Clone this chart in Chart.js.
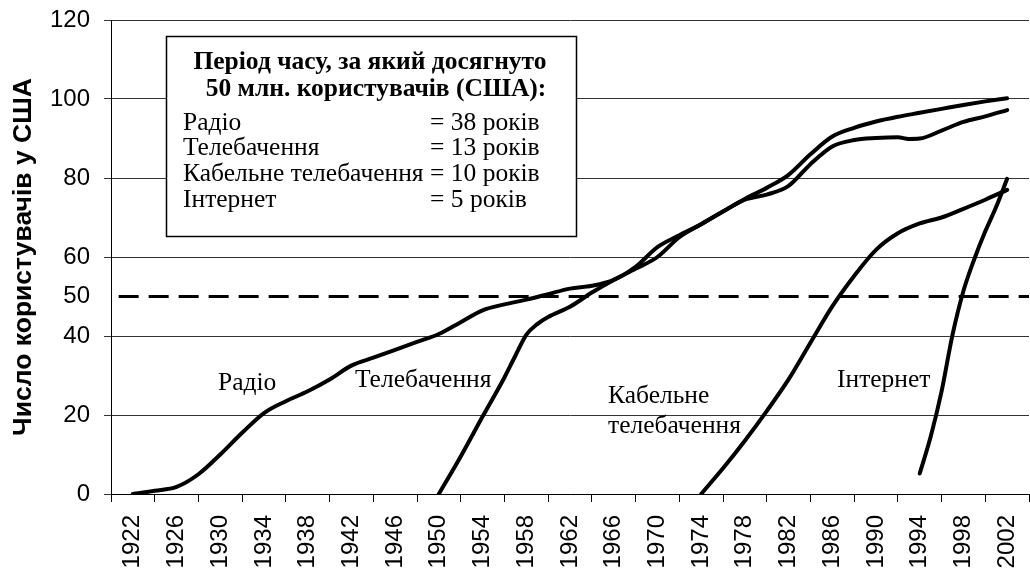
<!DOCTYPE html>
<html>
<head>
<meta charset="utf-8">
<title>Користувачі у США</title>
<script src="https://cdn.jsdelivr.net/npm/chart.js@4/dist/chart.umd.min.js"></script>
<style>
  body { margin: 0; background: #fff; }
  #wrap { width: 1030px; height: 572px; }
</style>
</head>
<body>
<div id="wrap"><canvas id="usersChart" width="1030" height="572"></canvas></div>
<script>
// --- Data ---
const yearLabels = [1922, 1926, 1930, 1934, 1938, 1942, 1946, 1950, 1954, 1958, 1962,
                    1966, 1970, 1974, 1978, 1982, 1986, 1990, 1994, 1998, 2002];
const yTicks = [0, 20, 40, 50, 60, 80, 100, 120];

const radioYears = [1922, 1924, 1926, 1928, 1930, 1932, 1934, 1936, 1938, 1940, 1942, 1944, 1946, 1948,
                    1950, 1952, 1954, 1956, 1958, 1960, 1962, 1964, 1966, 1968, 1970, 1972, 1974, 1976,
                    1978, 1980, 1982, 1984, 1986, 1988, 1990, 1992, 1994, 1996, 1998, 2000, 2002];
const radioUsers = [0, 0.8, 1.8, 5, 10, 15.5, 20.5, 23.5, 26, 29, 32.5, 34.5, 36.5, 38.5,
                    40.5, 43.5, 46.5, 48, 49.2, 50.6, 52, 52.7, 54.2, 57.5, 62.5, 65.5, 68.3, 71.5,
                    74.7, 77.5, 80.8, 86, 90.5, 92.7, 94.3, 95.5, 96.5, 97.5, 98.5, 99.4, 100.2];

const tvYears = [1950, 1952, 1954, 1956, 1957, 1958, 1959, 1960, 1962, 1964, 1966, 1968, 1970, 1972,
                 1974, 1976, 1978, 1980, 1982, 1984, 1986, 1988, 1990, 1992, 1993, 1994, 1996, 1998, 2000, 2002];
const tvUsers = [0, 9.5, 19.6, 29.5, 35, 40.3, 43, 44.8, 47.4, 51, 54.2, 57, 60, 65,
                 68.3, 71.5, 74.5, 75.8, 78, 83.5, 88, 89.6, 90.1, 90.3, 89.9, 90, 92, 94.2, 95.6, 97.2];

const cableYears = [1974, 1976, 1978, 1980, 1982, 1984, 1986, 1988, 1990, 1992, 1994, 1996, 1998, 2000, 2002];
const cableUsers = [0, 6.5, 13.5, 21, 29, 38.3, 47.5, 55.2, 61.8, 66, 68.5, 70, 72.2, 74.5, 77];

const internetYears = [1994, 1995, 1996, 1997, 1998, 1999, 2000, 2001, 2002];
const internetUsers = [5.2, 14.5, 26, 40.3, 51.4, 59.5, 66.5, 72.7, 79.8];

const thresholdYears = [1920.7, 2004];
const thresholdUsers = [50, 50];

// Helper: zip years + values into points
function toPoints(xs, ys) {
    return xs.map((x, i) => ({ x: x, y: ys[i] }));
}

function curve(xs, ys) {
    return {
        data: toPoints(xs, ys),
        borderColor: '#000',
        borderWidth: 4,
        borderCapStyle: 'round',
        borderJoinStyle: 'round',
        pointRadius: 0,
        cubicInterpolationMode: 'monotone',
        fill: false
    };
}

// --- Text box + line labels ---
const serif = '"Liberation Serif"';
const annotations = {
    id: 'annotations',
    afterDraw(chart) {
        const ctx = chart.ctx;
        ctx.save();

        // box with the summary
        ctx.fillStyle = '#fff';
        ctx.fillRect(166, 36, 411, 201);
        ctx.strokeStyle = '#000';
        ctx.lineWidth = 1.5;
        ctx.strokeRect(166.5, 36.5, 410, 200);

        ctx.fillStyle = '#000';
        ctx.textBaseline = 'alphabetic';
        ctx.textAlign = 'center';
        ctx.font = 'bold 25.5px ' + serif;
        ctx.fillText('Період часу, за який досягнуто', 370, 69);
        ctx.fillText('50 млн. користувачів (США):', 376, 96);

        ctx.textAlign = 'left';
        ctx.font = '25.5px ' + serif;
        const rows = [
            ['Радіо', '= 38 років', 130],
            ['Телебачення', '= 13 років', 155],
            ['Кабельне телебачення', '= 10 років', 181],
            ['Інтернет', '= 5 років', 207]
        ];
        rows.forEach(r => {
            ctx.fillText(r[0], 183, r[2]);
            ctx.fillText(r[1], 430, r[2]);
        });

        // labels beside the curves
        ctx.fillText('Радіо', 218, 390);
        ctx.fillText('Телебачення', 355, 387);
        ctx.fillText('Кабельне', 608, 403);
        ctx.fillText('телебачення', 608, 433);
        ctx.fillText('Інтернет', 837, 387);

        ctx.restore();
    }
};

new Chart(document.getElementById('usersChart'), {
    type: 'line',
    data: {
        datasets: [
            Object.assign(curve(thresholdYears, thresholdUsers), {
                borderWidth: 3, borderDash: [20, 10], borderCapStyle: 'butt', cubicInterpolationMode: 'default', tension: 0
            }),
            curve(radioYears, radioUsers),
            curve(tvYears, tvUsers),
            curve(cableYears, cableUsers),
            curve(internetYears, internetUsers)
        ]
    },
    options: {
        responsive: false,
        devicePixelRatio: 1,
        animation: false,
        layout: { padding: { top: 20, right: 1, left: 0, bottom: 0 } },
        plugins: {
            legend: { display: false },
            tooltip: { enabled: false }
        },
        scales: {
            x: {
                type: 'linear',
                min: 1920,
                max: 2004,
                afterBuildTicks: (scale) => { scale.ticks = yearLabels.map(v => ({ value: v })); },
                afterFit: (scale) => {
                    scale.height = 78;
                    scale.paddingLeft = 0;
                    scale.paddingRight = 0;
                },
                ticks: {
                    autoSkip: false,
                    minRotation: 90,
                    maxRotation: 90,
                    padding: 13,
                    color: '#000',
                    font: { family: '"Liberation Sans"', size: 24 },
                    callback: (value) => String(value)
                },
                grid: {
                    offset: true,
                    drawOnChartArea: false,
                    drawTicks: true,
                    tickLength: 8,
                    color: '#000'
                },
                border: { color: '#000', width: 1 }
            },
            y: {
                min: 0,
                max: 120,
                afterBuildTicks: (scale) => { scale.ticks = yTicks.map(v => ({ value: v })); },
                afterFit: (scale) => {
                    scale.width = 111;
                    scale.paddingTop = 0;
                    scale.paddingBottom = 0;
                },
                ticks: {
                    padding: 14,
                    color: '#000',
                    font: { family: '"Liberation Sans"', size: 24 }
                },
                grid: {
                    color: (c) => (c.tick && c.tick.value === 50) ? 'rgba(0,0,0,0)' : '#333',
                    tickLength: 7
                },
                border: { color: '#000', width: 1 },
                title: {
                    display: true,
                    text: 'Число користувачів у США',
                    color: '#000',
                    padding: { top: 8, bottom: 0 },
                    font: { family: '"Liberation Sans"', size: 26.5, weight: 'bold' }
                }
            }
        }
    },
    plugins: [annotations]
});
</script>
</body>
</html>
